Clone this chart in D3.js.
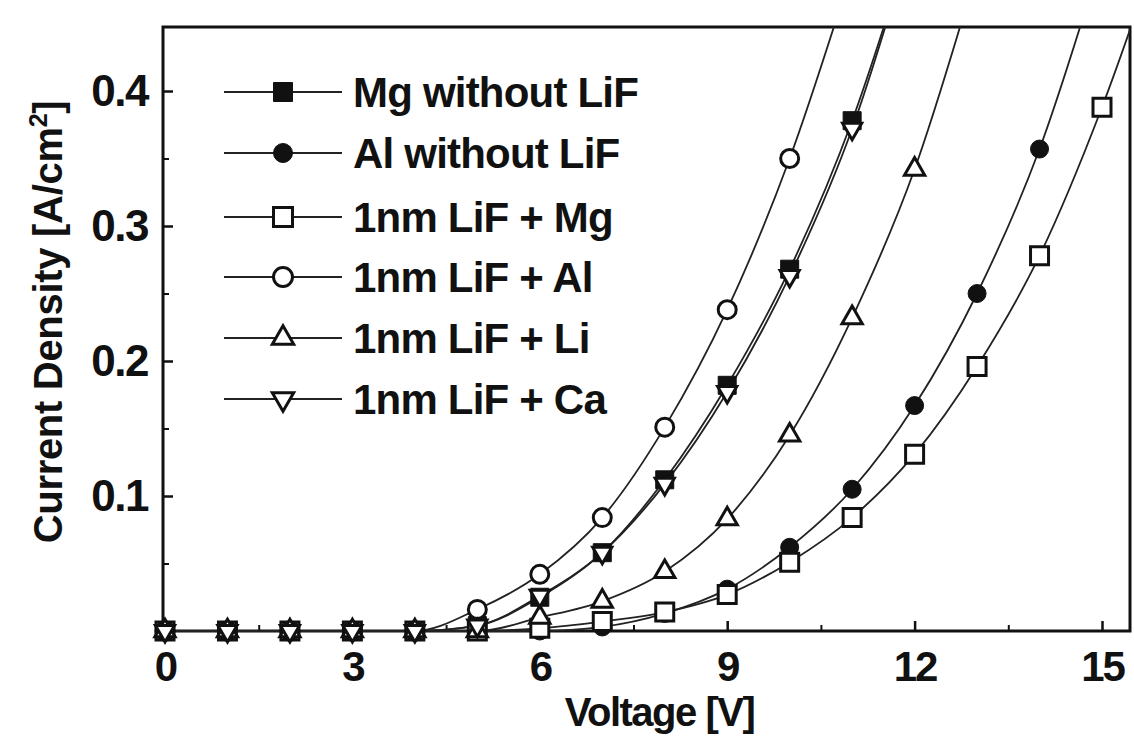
<!DOCTYPE html>
<html>
<head>
<meta charset="utf-8">
<script src="https://cdn.jsdelivr.net/npm/d3@7"></script>
<style>
  body { margin: 0; background: #fff; }
  svg { display: block; }
  text { font-family: "Liberation Sans", Arial, sans-serif; font-weight: bold; fill: #111; }
</style>
</head>
<body>
<svg id="chart" width="1134" height="742"></svg>
<script>
// Bias voltage steps [V]; each series below is indexed from 0 V in 1 V steps.
const voltage = [0, 1, 2, 3, 4, 5, 6, 7, 8, 9, 10, 11, 12, 13, 14, 15, 16];

// Current density [A/cm^2] per cathode structure
const mgNoLiF = [0, 0, 0, 0, 0, 0.004, 0.025, 0.058, 0.112, 0.182, 0.268, 0.378, 0.52];
const alNoLiF = [0, 0, 0, 0, 0, 0, 0, 0.003, 0.013, 0.031, 0.062, 0.105, 0.167, 0.250, 0.357, 0.50];
const lifMg   = [0, 0, 0, 0, 0, 0, 0.002, 0.007, 0.014, 0.027, 0.051, 0.084, 0.131, 0.196, 0.278, 0.388, 0.52];
const lifAl   = [0, 0, 0, 0, 0, 0.016, 0.042, 0.084, 0.151, 0.238, 0.350, 0.49];
const lifLi   = [0, 0, 0, 0, 0, 0, 0.010, 0.022, 0.044, 0.083, 0.145, 0.232, 0.342, 0.49];
const lifCa   = [0, 0, 0, 0, 0, 0.004, 0.026, 0.058, 0.109, 0.177, 0.263, 0.372, 0.52];

const seriesNames = ["Mg without LiF", "Al without LiF", "1nm LiF + Mg", "1nm LiF + Al", "1nm LiF + Li", "1nm LiF + Ca"];
const seriesValues = [mgNoLiF, alNoLiF, lifMg, lifAl, lifLi, lifCa];
const seriesMarkers = ["squareFilled", "circleFilled", "square", "circle", "triangle", "triangleDown"];

const xTicks = [0, 3, 6, 9, 12, 15];
const xMinorTicks = [1.5, 4.5, 7.5, 10.5, 13.5];
const yTicks = [0, 0.1, 0.2, 0.3, 0.4];
const yMinorTicks = [0.05, 0.15, 0.25, 0.35];

const svg = d3.select("#chart");
const ink = "#111";

const plot = { left: 163, right: 1130, top: 27, bottom: 631 };
const x = d3.scaleLinear().domain([0, 15]).range([165, 1102]);
const y = d3.scaleLinear().domain([0, 0.4]).range([631, 91]);

// Clip only the top and right: markers sitting on the zero line stay whole.
svg.append("defs").append("clipPath").attr("id", "plotClip")
  .append("rect")
  .attr("x", plot.left - 30).attr("y", plot.top)
  .attr("width", plot.right - plot.left + 30).attr("height", plot.bottom - plot.top + 30);

// Axes with inward ticks
const xAxis = d3.axisBottom(x).tickValues(xTicks).tickFormat(d3.format("d"))
  .tickSize(-10).tickSizeOuter(0).tickPadding(20);
const gx = svg.append("g").attr("transform", `translate(0,${plot.bottom})`).call(xAxis);
gx.select(".domain").remove();
gx.selectAll(".tick line").attr("stroke", ink).attr("stroke-width", 2.5);
gx.selectAll(".tick text").attr("font-size", 42).attr("letter-spacing", -2).attr("fill", ink);

const gxm = svg.append("g").attr("transform", `translate(0,${plot.bottom})`)
  .call(d3.axisBottom(x).tickValues(xMinorTicks).tickFormat("").tickSize(-6).tickSizeOuter(0));
gxm.select(".domain").remove();
gxm.selectAll(".tick line").attr("stroke", ink).attr("stroke-width", 2);

const yAxis = d3.axisLeft(y).tickValues(yTicks)
  .tickFormat(d => d === 0 ? "" : d3.format(".1f")(d))
  .tickSize(-10).tickSizeOuter(0).tickPadding(15);
const gy = svg.append("g").attr("transform", `translate(${plot.left},0)`).call(yAxis);
gy.select(".domain").remove();
gy.selectAll(".tick line").attr("stroke", ink).attr("stroke-width", 2.5);
gy.selectAll(".tick text").attr("font-size", 44).attr("letter-spacing", -1.5).attr("fill", ink);

const gym = svg.append("g").attr("transform", `translate(${plot.left},0)`)
  .call(d3.axisLeft(y).tickValues(yMinorTicks).tickFormat("").tickSize(-6).tickSizeOuter(0));
gym.select(".domain").remove();
gym.selectAll(".tick line").attr("stroke", ink).attr("stroke-width", 2);

// Frame
svg.append("rect")
  .attr("x", plot.left).attr("y", plot.top)
  .attr("width", plot.right - plot.left).attr("height", plot.bottom - plot.top)
  .attr("fill", "none").attr("stroke", ink).attr("stroke-width", 3);

// Axis titles
svg.append("text")
  .attr("x", (x(0) + x(15)) / 2 + 26).attr("y", 726)
  .attr("text-anchor", "middle").attr("font-size", 40).attr("letter-spacing", -1.5)
  .text("Voltage [V]");

const yTitle = svg.append("text")
  .attr("transform", "translate(62,322) rotate(-90)")
  .attr("text-anchor", "middle").attr("font-size", 40).attr("letter-spacing", -0.3);
yTitle.append("tspan").text("Current Density [A/cm");
yTitle.append("tspan").attr("dy", -15).attr("font-size", 25).text("2");
yTitle.append("tspan").attr("dy", 15).text("]");

// Marker drawing
function marker(sel, kind, size) {
  const s = size;
  let gen;
  if (kind.startsWith("square")) gen = d3.symbol(d3.symbolSquare, s * s);
  else if (kind.startsWith("circle")) gen = d3.symbol(d3.symbolCircle, Math.PI * (s / 2) * (s / 2));
  else gen = d3.symbol(d3.symbolTriangle, s * s * 0.55);
  sel.append("path")
    .attr("d", gen)
    .attr("transform", kind === "triangleDown" ? "rotate(180)" : null)
    .attr("fill", kind.endsWith("Filled") ? ink : "#fff")
    .attr("stroke", ink)
    .attr("stroke-width", kind.endsWith("Filled") ? 1 : 3);
}

const line = d3.line()
  .x((d, i) => x(voltage[i]))
  .y(d => y(d))
  .curve(d3.curveMonotoneX);

const plotArea = svg.append("g").attr("clip-path", "url(#plotClip)");

seriesValues.forEach(vals => {
  plotArea.append("path")
    .attr("d", line(vals))
    .attr("fill", "none")
    .attr("stroke", "#222")
    .attr("stroke-width", 1.8);
});

seriesValues.forEach((vals, k) => {
  vals.forEach((v, i) => {
    const g = plotArea.append("g").attr("transform", `translate(${x(voltage[i])},${y(v)})`);
    marker(g, seriesMarkers[k], k === 5 ? 17 : 18);
  });
});

// Legend
const legendRows = [92, 153, 217, 277, 338, 399];
seriesNames.forEach((name, k) => {
  const g = svg.append("g").attr("transform", `translate(0,${legendRows[k]})`);
  g.append("line").attr("x1", 224).attr("x2", 342).attr("y1", 0).attr("y2", 0)
    .attr("stroke", "#222").attr("stroke-width", 2);
  const m = g.append("g").attr("transform", "translate(283,0)");
  marker(m, seriesMarkers[k], 19);
  g.append("text").attr("x", 353).attr("y", 15)
    .attr("font-size", 42).attr("letter-spacing", -0.8)
    .text(name);
});
</script>
</body>
</html>
